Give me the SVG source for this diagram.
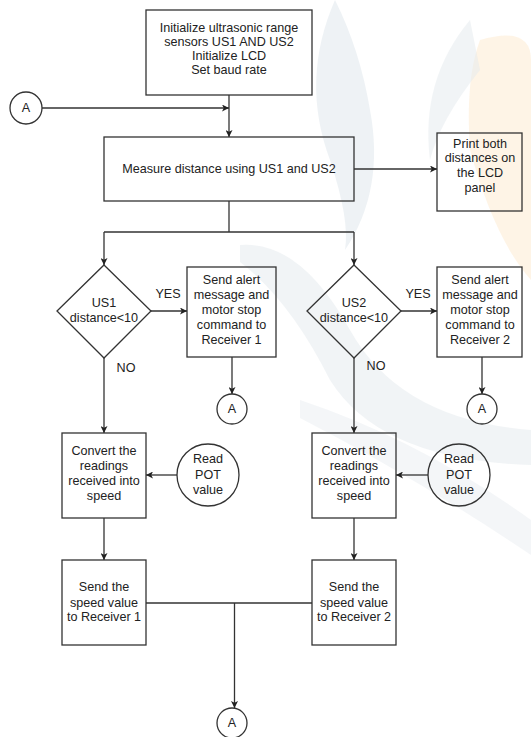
<svg xmlns="http://www.w3.org/2000/svg" width="531" height="737" viewBox="0 0 531 737">
<style>
.box{fill:none;stroke:#333;stroke-width:1.3}
.ln{fill:none;stroke:#333;stroke-width:1.3}
.t{font-family:"Liberation Sans",Arial,sans-serif;font-size:12.6px;fill:#222;text-anchor:middle}
.wm{fill:#e3e9ee}
</style>
<defs>
<marker id="ah" viewBox="0 0 10 10" refX="10" refY="5" markerWidth="7" markerHeight="7" markerUnits="userSpaceOnUse" orient="auto"><path d="M0,0 L10,5 L0,10 L2.5,5 Z" fill="#222"/></marker>
</defs>
<rect width="531" height="737" fill="#fff"/>
<g id="watermark">
<path d="M480,40 Q531,25 531,60 L531,280 Q495,240 470,150 Q465,80 480,40 Z" fill="#fdefdc" opacity="0.7"/>
<path class="wm" d="M335,0 Q300,80 330,160 Q350,220 345,250 Q385,190 370,110 Q360,50 335,0 Z" opacity="0.6"/>
<path class="wm" d="M470,20 Q420,80 430,160 Q440,120 480,70 Z" opacity="0.5"/>
<path class="wm" d="M240,245 Q300,240 350,330 Q400,420 531,430 L531,465 Q380,460 330,380 Q290,300 240,262 Z" opacity="0.5"/>
<path class="wm" d="M300,400 Q420,440 531,520 L531,555 Q420,480 300,418 Z" opacity="0.4"/>
</g>
<g id="connectors">
<line class="ln" x1="229" y1="95" x2="229" y2="137" marker-end="url(#ah)"/>
<line class="ln" x1="42" y1="108" x2="229" y2="108" marker-end="url(#ah)"/>
<line class="ln" x1="354" y1="169" x2="437" y2="169" marker-end="url(#ah)"/>
<polyline class="ln" points="229,201 229,232"/>
<polyline class="ln" points="104,232 354,232"/>
<line class="ln" x1="104" y1="232" x2="104" y2="265" marker-end="url(#ah)"/>
<line class="ln" x1="354" y1="232" x2="354" y2="265" marker-end="url(#ah)"/>
<line class="ln" x1="151" y1="311" x2="187" y2="311" marker-end="url(#ah)"/>
<line class="ln" x1="401" y1="311" x2="437" y2="311" marker-end="url(#ah)"/>
<line class="ln" x1="232" y1="357" x2="232" y2="394" marker-end="url(#ah)"/>
<line class="ln" x1="482" y1="357" x2="482" y2="394" marker-end="url(#ah)"/>
<line class="ln" x1="104" y1="358" x2="104" y2="433" marker-end="url(#ah)"/>
<line class="ln" x1="354" y1="358" x2="354" y2="433" marker-end="url(#ah)"/>
<line class="ln" x1="177" y1="475" x2="146" y2="475" marker-end="url(#ah)"/>
<line class="ln" x1="428" y1="475" x2="396" y2="475" marker-end="url(#ah)"/>
<line class="ln" x1="104" y1="518" x2="104" y2="560" marker-end="url(#ah)"/>
<line class="ln" x1="354" y1="518" x2="354" y2="560" marker-end="url(#ah)"/>
<polyline class="ln" points="146,603 312,603"/>
<line class="ln" x1="234.5" y1="603" x2="234.5" y2="708" marker-end="url(#ah)"/>
<text class="t" x="168" y="298">YES</text>
<text class="t" x="418" y="298">YES</text>
<text class="t" x="126" y="372">NO</text>
<text class="t" x="376" y="370">NO</text>
</g>
<g id="init">
<rect class="box" x="146" y="10" width="166" height="85"/>
<text class="t" x="229" y="32">Initialize ultrasonic range</text>
<text class="t" x="229" y="46">sensors US1 AND US2</text>
<text class="t" x="229" y="60">Initialize LCD</text>
<text class="t" x="229" y="74">Set baud rate</text>
</g>
<g id="connA-top">
<circle class="box" cx="26" cy="108" r="16"/>
<text class="t" x="26" y="112">A</text>
</g>
<g id="measure">
<rect class="box" x="104" y="137" width="250" height="64"/>
<text class="t" x="229" y="173">Measure distance using US1 and US2</text>
</g>
<g id="print">
<rect class="box" x="437" y="133" width="85" height="78"/>
<text class="t" x="480" y="148">Print both</text>
<text class="t" x="480" y="162">distances on</text>
<text class="t" x="480" y="177">the LCD</text>
<text class="t" x="480" y="192">panel</text>
</g>
<g id="dec1">
<polygon class="box" points="104,265 151,311 104,358 57,311"/>
<text class="t" x="104" y="307">US1</text>
<text class="t" x="104" y="322">distance&lt;10</text>
</g>
<g id="dec2">
<polygon class="box" points="354,265 401,311 354,358 307,311"/>
<text class="t" x="354" y="307">US2</text>
<text class="t" x="354" y="322">distance&lt;10</text>
</g>
<g id="alert1">
<rect class="box" x="187" y="267" width="89" height="90"/>
<text class="t" x="231.5" y="284">Send alert</text>
<text class="t" x="231.5" y="299">message and</text>
<text class="t" x="231.5" y="314">motor stop</text>
<text class="t" x="231.5" y="329">command to</text>
<text class="t" x="231.5" y="344">Receiver 1</text>
</g>
<g id="alert2">
<rect class="box" x="437" y="267" width="85" height="90"/>
<text class="t" x="480" y="284">Send alert</text>
<text class="t" x="480" y="299">message and</text>
<text class="t" x="480" y="314">motor stop</text>
<text class="t" x="480" y="329">command to</text>
<text class="t" x="480" y="344">Receiver 2</text>
</g>
<g id="connA-1">
<circle class="box" cx="232" cy="409" r="15"/>
<text class="t" x="232" y="413">A</text>
</g>
<g id="connA-2">
<circle class="box" cx="482" cy="409" r="15"/>
<text class="t" x="482" y="413">A</text>
</g>
<g id="convert1">
<rect class="box" x="62" y="433" width="84" height="85"/>
<text class="t" x="104" y="455">Convert the</text>
<text class="t" x="104" y="470">readings</text>
<text class="t" x="104" y="485">received into</text>
<text class="t" x="104" y="500">speed</text>
</g>
<g id="convert2">
<rect class="box" x="312" y="433" width="84" height="85"/>
<text class="t" x="354" y="455">Convert the</text>
<text class="t" x="354" y="470">readings</text>
<text class="t" x="354" y="485">received into</text>
<text class="t" x="354" y="500">speed</text>
</g>
<g id="pot1">
<circle class="box" cx="208" cy="475" r="31"/>
<text class="t" x="208" y="463">Read</text>
<text class="t" x="208" y="479">POT</text>
<text class="t" x="208" y="494">value</text>
</g>
<g id="pot2">
<circle class="box" cx="459" cy="475" r="31"/>
<text class="t" x="459" y="463">Read</text>
<text class="t" x="459" y="479">POT</text>
<text class="t" x="459" y="494">value</text>
</g>
<g id="send1">
<rect class="box" x="62" y="560" width="84" height="85"/>
<text class="t" x="104" y="591">Send the</text>
<text class="t" x="104" y="607">speed value</text>
<text class="t" x="104" y="621">to Receiver 1</text>
</g>
<g id="send2">
<rect class="box" x="312" y="560" width="84" height="85"/>
<text class="t" x="354" y="591">Send the</text>
<text class="t" x="354" y="607">speed value</text>
<text class="t" x="354" y="621">to Receiver 2</text>
</g>
<g id="connA-bottom">
<circle class="box" cx="232" cy="723" r="15"/>
<text class="t" x="232" y="727">A</text>
</g>
</svg>
